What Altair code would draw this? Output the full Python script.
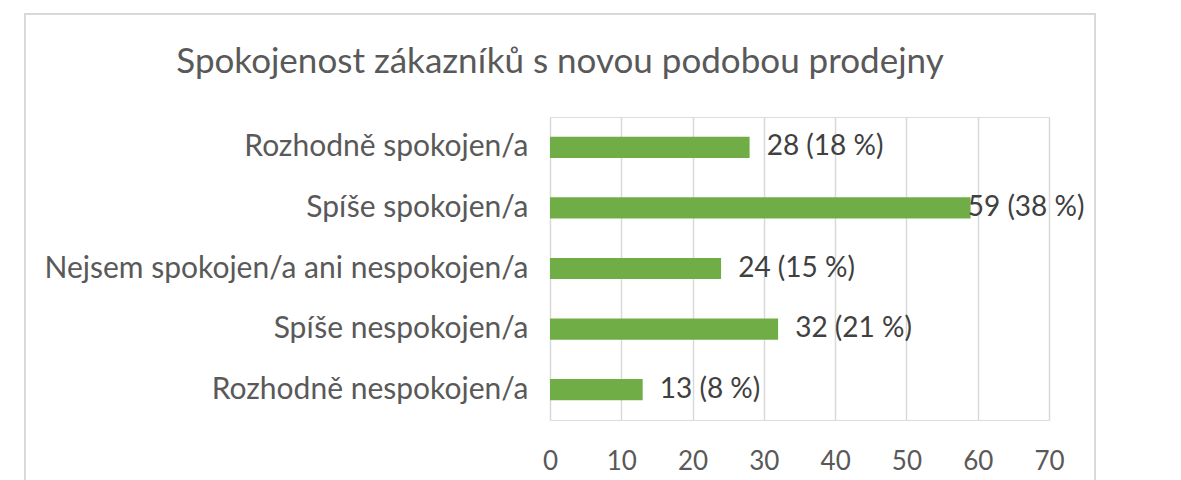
import altair as alt
import pandas as pd

title_text = "Spokojenost zákazníků s novou podobou prodejny"
categories = [
    "Rozhodně spokojen/a",
    "Spíše spokojen/a",
    "Nejsem spokojen/a ani nespokojen/a",
    "Spíše nespokojen/a",
    "Rozhodně nespokojen/a",
]
counts = [28, 59, 24, 32, 13]
percents = [18, 38, 15, 21, 8]
labels = [f"{c} ({p} %)" for c, p in zip(counts, percents)]

df = pd.DataFrame({"cat": categories, "value": counts, "label": labels})

FONT = "Lato"
W, H = 499, 303
LEFT, TOP = 550, 117

y = alt.Y(
    "cat:N",
    sort=categories,
    title=None,
    scale=alt.Scale(paddingInner=0.65, paddingOuter=0.325),
    axis=alt.Axis(domain=False, ticks=False, labelFontSize=30, labelColor="#595959",
                  labelFont=FONT, labelPadding=22, labelLimit=700),
)

bars = alt.Chart(df).mark_bar(color="#70AD47").encode(
    x=alt.X("value:Q", title=None,
            scale=alt.Scale(domain=[0, 70]),
            axis=alt.Axis(values=list(range(0, 71, 10)), domain=False, ticks=False,
                          grid=True, gridColor="#d9d9d9", gridWidth=1.5,
                          labelFontSize=26, labelColor="#595959", labelFont=FONT,
                          labelPadding=28, labelFlush=False)),
    y=y,
)

text = alt.Chart(df).transform_calculate(
    lx="min(datum.value + 2.4, 58.6)"
).mark_text(align="left", baseline="middle", fontSize=28, color="#404040", font=FONT).encode(
    x="lx:Q",
    y=alt.Y("cat:N", sort=categories),
    text="label:N",
)

border = alt.Chart(df).mark_rect(fill=None, stroke="#d9d9d9", strokeWidth=1.5).encode(
    x=alt.value(25 - LEFT), x2=alt.value(1095 - LEFT),
    y=alt.value(14 - TOP), y2=alt.value(520),
)

title = alt.Chart(pd.DataFrame({"t": [title_text]})).mark_text(
    align="center", baseline="middle", fontSize=35, color="#595959", font=FONT
).encode(
    x=alt.value(560 - LEFT), y=alt.value(62 - TOP), text="t:N"
)

chart = alt.layer(border, bars, text, title).properties(
    width=W, height=H,
    autosize=alt.AutoSizeParams(type="none"),
    padding={"left": LEFT, "top": TOP, "right": 1181 - LEFT - W, "bottom": 480 - TOP - H},
).configure_view(stroke=None).configure(background="white")

chart.save("out.html", embed_options={"renderer": "svg", "actions": False})
